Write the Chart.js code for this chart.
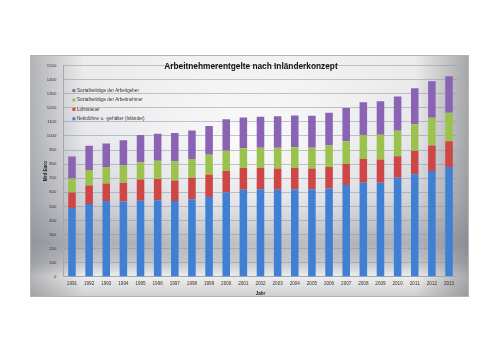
<!DOCTYPE html>
<html lang="de">
<head>
<meta charset="utf-8">
<title>Arbeitnehmerentgelte nach Inländerkonzept</title>
<script src="https://cdn.jsdelivr.net/npm/chart.js@4.4.1/dist/chart.umd.min.js"></script>
<style>
    body {
        margin: 0;
        background: #ffffff;
        width: 500px;
        height: 354px;
        position: relative;
        overflow: hidden;
    }
    /* Excel-like silver chart box */
    #chartBox {
        position: absolute;
        left: 30px;
        top: 55px;
        width: 439px;
        height: 242px;
        box-sizing: border-box;
        border: 1px solid #b4b4b4;
        background:
            radial-gradient(ellipse at 50% 35%, rgba(255,255,255,0.85) 0%, rgba(255,255,255,0) 60%),
            linear-gradient(to right, rgba(110,112,118,0.45) 0%, rgba(0,0,0,0) 12%, rgba(0,0,0,0) 88%, rgba(110,112,118,0.55) 100%),
            linear-gradient(to bottom, #ececec 0%, #e4e5e8 35%, #d0d2d7 60%, #aeb1b8 78%, #c4c6cb 86%, #eeeeee 92%, #cfcfcf 100%);
    }
    #chartBox canvas {
        position: absolute;
        left: 0;
        top: 0;
    }
</style>
</head>
<body>
<div id="chartBox">
    <canvas id="entgeltChart" width="437" height="240"></canvas>
</div>
<script>
// Years (x categories)
const years = ["1991", "1992", "1993", "1994", "1995", "1996", "1997", "1998", "1999", "2000",
    "2001", "2002", "2003", "2004", "2005", "2006", "2007", "2008", "2009", "2010",
    "2011", "2012", "2013"];

// Values in Mrd Euro
const nettoloehne = [488, 516, 537, 535, 540, 543, 537, 551, 567, 599, 618, 622, 618, 622, 622, 627, 652, 668, 668, 703, 728, 751, 779];
const lohnsteuer = [111, 132, 126, 133, 151, 151, 147, 152, 159, 152, 154, 152, 150, 152, 146, 152, 150, 168, 164, 152, 166, 182, 184];
const sozialArbeitnehmer = [99, 110, 116, 122, 122, 129, 136, 134, 140, 143, 141, 143, 149, 146, 149, 154, 161, 170, 177, 182, 189, 196, 201];
const sozialArbeitgeber = [156, 172, 168, 180, 193, 192, 201, 202, 205, 224, 218, 219, 223, 225, 226, 231, 235, 234, 238, 244, 256, 260, 260];

// Axis settings
const yMin = 0;
const yMax = 1500;
const yStep = 100;

const chartTitle = "Arbeitnehmerentgelte nach Inländerkonzept";

// Title and legend sit inside the plot area like in the Excel chart
const insideTextPlugin = {
    id: "insideText",
    afterDraw(chart) {
        const ctx = chart.ctx;
        const area = chart.chartArea;
        ctx.save();

        // title
        ctx.font = "bold 8.3px 'Liberation Sans', Arial, sans-serif";
        ctx.fillStyle = "#111111";
        ctx.textAlign = "center";
        ctx.textBaseline = "middle";
        ctx.fillText(chartTitle, 220, 10.5);

        // legend, top item = last dataset
        ctx.font = "4.6px 'Liberation Sans', Arial, sans-serif";
        ctx.textAlign = "left";
        const sets = chart.data.datasets.slice().reverse();
        sets.forEach((ds, i) => {
            const y = area.top + 25 + i * 9.4;
            ctx.fillStyle = ds.backgroundColor;
            ctx.fillRect(area.left + 9, y - 1.5, 3, 3);
            ctx.fillStyle = "#333333";
            ctx.fillText(ds.label, area.left + 13.5, y);
        });

        ctx.restore();
    }
};

const ctx = document.getElementById("entgeltChart").getContext("2d");

new Chart(ctx, {
    type: "bar",
    data: {
        labels: years,
        datasets: [
            {
                label: "Nettolöhne u. -gehälter (Inländer)",
                data: nettoloehne,
                backgroundColor: "#3f7fd4"
            },
            {
                label: "Lohnsteuer",
                data: lohnsteuer,
                backgroundColor: "#cf4646"
            },
            {
                label: "Sozialbeiträge der Arbeitnehmer",
                data: sozialArbeitnehmer,
                backgroundColor: "#9cc24e"
            },
            {
                label: "Sozialbeiträge der Arbeitgeber",
                data: sozialArbeitgeber,
                backgroundColor: "#8a63b4"
            }
        ]
    },
    options: {
        responsive: false,
        animation: false,
        layout: {
            padding: { left: 0, right: 10.4, top: 4.7, bottom: 0 }
        },
        datasets: {
            bar: {
                categoryPercentage: 1,
                barPercentage: 0.44
            }
        },
        plugins: {
            legend: { display: false },
            title: { display: false },
            tooltip: { enabled: false }
        },
        scales: {
            x: {
                stacked: true,
                grid: { display: false, drawTicks: false },
                border: { display: true, color: "#a8a8a8" },
                ticks: {
                    autoSkip: false,
                    maxRotation: 0,
                    padding: 4.6,
                    color: "#333333",
                    font: { size: 4.6, family: "'Liberation Sans', Arial, sans-serif" }
                },
                title: {
                    display: true,
                    text: "Jahr",
                    color: "#222222",
                    padding: 0,
                    font: { size: 4.6, weight: "bold", family: "'Liberation Sans', Arial, sans-serif" }
                },
                afterFit(scale) {
                    scale.height = 19.3;
                }
            },
            y: {
                stacked: true,
                min: yMin,
                max: yMax,
                grid: { color: "rgba(150,152,160,0.55)", drawTicks: false },
                border: { display: true, color: "#a8a8a8" },
                ticks: {
                    stepSize: yStep,
                    padding: 7,
                    color: "#333333",
                    font: { size: 4.3, family: "'Liberation Sans', Arial, sans-serif" },
                    callback: function(value) {
                        return String(value); // no thousands separator
                    }
                },
                title: {
                    display: true,
                    text: "Mrd Euro",
                    color: "#222222",
                    padding: { top: 11.6, bottom: 0 },
                    font: { size: 4.6, weight: "bold", family: "'Liberation Sans', Arial, sans-serif" }
                },
                afterFit(scale) {
                    scale.width = 32.4;
                }
            }
        }
    },
    plugins: [insideTextPlugin]
});
</script>
</body>
</html>
